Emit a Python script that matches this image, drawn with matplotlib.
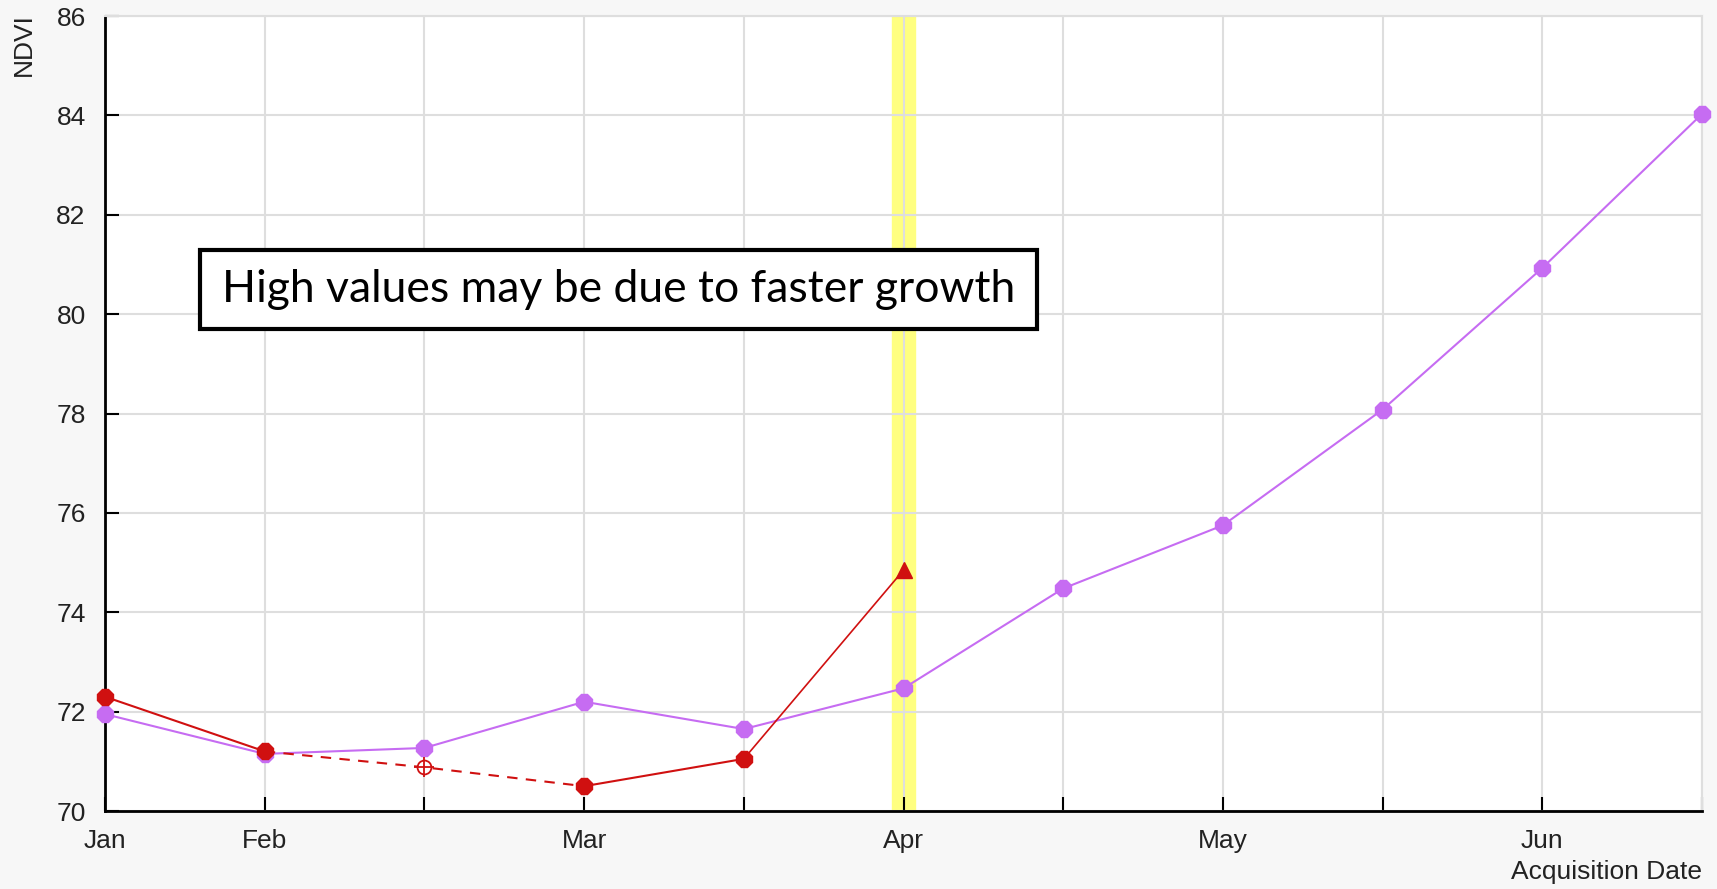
import matplotlib
matplotlib.use('Agg')
import matplotlib.pyplot as plt
from matplotlib.patches import Rectangle

plt.rcParams['font.family'] = ['Liberation Sans', 'DejaVu Sans']

# acquisition slots (half-month spacing) and their labels
slots = list(range(11))
slot_labels = ['Jan', 'Feb', '', 'Mar', '', 'Apr', '', 'May', '', 'Jun', '']

# NDVI series
ndvi_purple = [71.95, 71.15, 71.27, 72.2, 71.65, 72.47, 74.48, 75.75, 78.08, 80.93, 84.03]
red_solid_a_x = [0, 1]
red_solid_a_y = [72.3, 71.2]
red_dash_x = [1, 2, 3]
red_dash_y = [71.2, 70.88, 70.5]
red_solid_b_x = [3, 4, 5]
red_solid_b_y = [70.5, 71.05, 74.85]
highlight_slot = 5

purple = '#c66cf2'
red = '#d01010'

fig = plt.figure(figsize=(17.17, 8.89), dpi=100, facecolor='#f7f7f7')
ax = fig.add_axes([0.0612, 0.0877, 0.9301, 0.8943])
ax.set_facecolor('white')

# highlighted acquisition
ax.axvspan(highlight_slot - 0.072, highlight_slot + 0.072, color='#ffff80', zorder=0)

ax.plot(slots, ndvi_purple, color=purple, lw=1.5, marker='8', ms=13,
        mec=purple, mfc=purple, zorder=3, clip_on=False)

ax.plot(red_solid_a_x, red_solid_a_y, color=red, lw=1.5, marker='8', ms=13,
        zorder=4, clip_on=False)
ax.plot(red_dash_x, red_dash_y, color=red, lw=1.5, ls=(0, (5, 4)), zorder=4)
ax.plot(red_solid_b_x[:-1], red_solid_b_y[:-1], color=red, lw=1.5, marker='8', ms=13,
        zorder=4)
ax.plot(red_solid_b_x[-2:], red_solid_b_y[-2:], color=red, lw=1.2, zorder=4)
ax.plot(red_solid_b_x[-1], red_solid_b_y[-1], color=red, marker='^', ms=12, zorder=5)
# interpolated (cloudy) acquisition
ax.plot(red_dash_x[1], red_dash_y[1], marker='o', ms=10, mfc='white', mec=red,
        mew=1.3, zorder=5)
ax.plot(red_dash_x[1], red_dash_y[1], marker='+', ms=15, color=red, mew=1.3, zorder=5)

ax.set_xlim(0, 10)
ax.set_ylim(70, 86)
ax.set_xticks(slots)
ax.set_xticklabels(slot_labels)
ax.set_yticks(range(70, 87, 2))
ax.grid(True, color='#dedede', lw=1.5, zorder=1)
ax.set_axisbelow(True)

ax.tick_params(axis='both', direction='in', length=10, width=1.5, colors='black',
               labelsize=19, labelcolor='#222222')
ax.tick_params(axis='y', pad=14)
ax.tick_params(axis='x', pad=13)
for s in ['left', 'bottom']:
    ax.spines[s].set_linewidth(2)
    ax.spines[s].set_color('black')
for s in ['top', 'right']:
    ax.spines[s].set_linewidth(1.5)
    ax.spines[s].set_color('#dedede')

fig.text(0.014, 0.985, 'NDVI', rotation=90, ha='center', va='top', fontsize=19,
         color='#222222')
fig.text(0.991, 0.006, 'Acquisition Date', ha='right', va='bottom', fontsize=19,
         color='#222222')

# note box
ax.add_patch(Rectangle((0.0595, 0.606), 0.5241, 0.0997, transform=ax.transAxes,
                       facecolor='white', edgecolor='black', lw=3, zorder=6))
ax.text(0.3216, 0.656, 'High values may be due to faster growth', transform=ax.transAxes,
        ha='center', va='center', fontsize=32, family=['Lato', 'DejaVu Sans'],
        color='black', zorder=7)

fig.savefig('out.png', dpi=100, facecolor=fig.get_facecolor())
